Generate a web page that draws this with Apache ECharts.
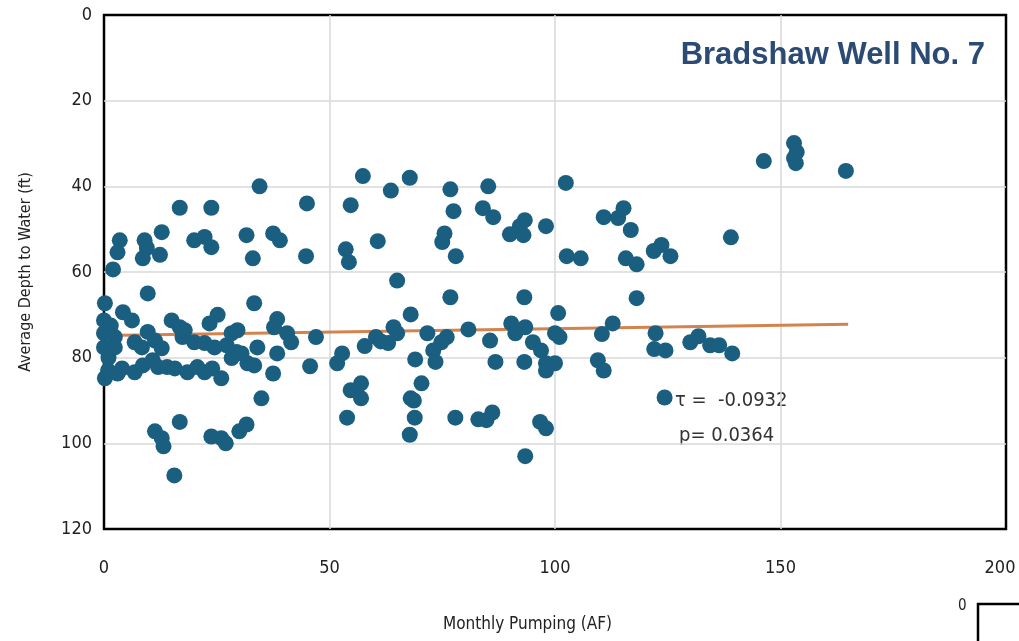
<!DOCTYPE html>
<html>
<head>
	<meta charset="utf-8">
	<title>Bradshaw Well No. 7</title>
	<script src="https://cdn.jsdelivr.net/npm/echarts@6/dist/echarts.min.js"></script>
	<style>
		html, body { margin: 0; padding: 0; background: #fff; }
	</style>
</head>
<body>
	<div id="main" style="width: 1019px;height:641px;"></div>
	<script type="text/javascript">
	// monthly pumping (AF), average depth to water (ft)
	var points = [
		// left, upper
		[0.2,67.3],[2,59.4],[3.5,52.6],[3,55.4],[9,52.6],[9.5,54.4],[8.6,56.8],[12.8,50.7],[12.4,56],[9.7,65],
		[16.8,45],[20,52.6],[22.3,51.8],[23.8,54.2],[23.8,45],[31.6,51.4],[33,56.8],[34.5,40],[33.3,67.3],
		// left, dense band
		[4.2,69.4],[6.2,71.3],[0,71.3],[1.5,72.5],[0,74.3],[0,77.6],[1,80],[2.4,75.2],[2.4,77.6],[6.8,76.4],[8.4,77.6],
		[9.7,74],[11.3,76],[12.8,77.8],[15,71.3],[16.8,72.9],[17.4,75.2],[17.9,73.6],[20,76.4],[22.3,76.6],
		[23.4,72],[25.2,70],[24.5,77.6],[27.2,77.1],[28.3,74.3],[29.6,73.6],[29.4,78.7],[31.8,81.3],[34,77.6],
		[0.9,83],[0.2,84.8],[3,83.7],[4,82.5],[6.8,83.4],[8.6,81.8],[10.8,80.6],[12,82.2],[14,82.2],[15.7,82.5],
		[18.5,83.4],[20.7,82.2],[22.3,83.4],[24,82.5],[26,84.8],[28.3,80.1],[30.5,79],
		// left, low
		[11.3,97.2],[12.8,98.8],[13.2,100.7],[16.8,95],[15.6,107.5],[23.8,98.4],[26,98.8],[27,100],[30,97.2],[31.6,95.6],
		// middle
		[45,44],[57.4,37.6],[67.8,38],[63.6,41],[54.7,44.4],[37.5,51],[39,52.6],[44.8,56.3],[53.6,54.7],[54.3,57.7],
		[60.7,52.8],[65,62],[68,69.9],[38.4,71],[37.7,72.9],[40.6,74.3],[41.5,76.4],[38.4,79],[47,75.2],[45.7,82],
		[37.5,83.7],[34.9,89.5],[33.3,81.8],[51.7,81.3],[52.8,79],[54.7,87.6],[57,86],[57,89.5],[53.9,94],[57.8,77.3],
		[60.3,75.2],[61.4,76.2],[63,76.6],[64.2,72.9],[65,74.3],[69,80.4],[70.4,86],[68,89.5],[68.7,90],[68.9,94],[67.8,98],
		// middle right
		[76.8,40.7],[85.2,40],[102.4,39.2],[77.5,45.8],[84,45.1],[86.3,47.2],[75.5,51],[75,53],[78,56.3],[90,51.2],
		[93.3,47.9],[92.2,49.3],[93,51.4],[98,49.3],[102.6,56.3],[105.7,56.8],[76.8,65.9],[93.2,65.9],[100.7,69.6],
		[71.7,74.3],[80.8,73.4],[76,75.2],[74.8,76.4],[73,78.3],[73.5,81],[85.6,76],[86.8,81],[90.3,72],[91.2,74.3],
		[93.4,72.9],[95.1,76.4],[96.9,78.3],[93.2,81],[98,81.3],[100,81.3],[98,83],[100,74.3],[101,75.2],
		[77.9,94],[83,94.4],[84.8,94.6],[86.1,92.8],[96.7,95],[98,96.5],[93.4,103],
		// right
		[110.8,47.2],[110.4,74.5],[109.5,80.6],[146.3,34.1],[153,29.9],[153.6,32],[153,33.4],[153.4,34.6],[164.5,36.4],
		[114,47.4],[115.2,45.1],[116.8,50.2],[139,51.9],[121.9,55.1],[123.6,53.7],[125.6,56.3],[115.7,56.8],[118.1,58.2],
		[118.1,66.1],[112.8,72],[110.8,83],[122.3,74.3],[122,78],[124.5,78.3],[130,76.4],[131.8,75],[134.4,77.1],
		[136.4,77.1],[139.3,79],[124.3,89.3]
	];

	// linear trend
	var trend = [[0,74.8],[165,72.2]];

	var stats = ['τ =  -0.0932', 'p= 0.0364'];

	var narrow = '"Liberation Sans Narrow", "DejaVu Sans Condensed", sans-serif';

	var myChart = echarts.init(document.getElementById('main'));

	var option = {
		animation: false,
		backgroundColor: '#fff',
		title: {
			text: 'Bradshaw Well No. 7',
			right: 29,
			top: 35,
			textStyle: {
				fontFamily: '"Liberation Sans", Arial, sans-serif',
				fontWeight: 'bold',
				fontSize: 31,
				color: '#2b4a74'
			}
		},
		grid: {
			left: 104,
			right: 13,
			top: 15,
			bottom: 112,
			outerBoundsMode: 'none',
			show: true,
			borderColor: '#000',
			borderWidth: 2.5
		},
		xAxis: {
			type: 'value',
			min: 0,
			max: 200,
			interval: 50,
			axisLine: { show: false },
			axisTick: { show: false },
			axisLabel: {
				margin: 30,
				fontFamily: narrow,
				fontSize: 18,
				color: '#222',
				formatter: function (v) { return v === 200 ? '{m|200}' : String(v); },
				rich: { m: { fontFamily: narrow, fontSize: 18, color: '#222', padding: [0, 12, 0, 0] } }
			},
			splitLine: { showMinLine: false, showMaxLine: false, lineStyle: { color: '#d9d9d9', width: 1.5 } }
		},
		yAxis: {
			type: 'value',
			inverse: true,
			min: 0,
			max: 120,
			interval: 20,
			name: 'Average Depth to Water (ft)',
			nameLocation: 'middle',
			nameGap: 70,
			nameTextStyle: {
				fontFamily: narrow,
				fontSize: 16,
				color: '#222'
			},
			axisLine: { show: false },
			axisTick: { show: false },
			axisLabel: {
				margin: 12,
				fontFamily: narrow,
				fontSize: 18,
				color: '#222'
			},
			splitLine: { showMinLine: false, showMaxLine: false, lineStyle: { color: '#d9d9d9', width: 1.5 } }
		},
		graphic: [
			{
				type: 'text',
				left: 443,
				top: 616,
				style: {
					text: 'Monthly Pumping (AF)',
					fontFamily: narrow,
					fontSize: 17,
					fill: '#222'
				}
			},
			{
				type: 'text',
				left: 675,
				top: 391,
				style: { text: stats[0], fontFamily: narrow, fontSize: 20, fill: '#333' }
			},
			{
				type: 'text',
				left: 679,
				top: 426,
				style: { text: stats[1], fontFamily: narrow, fontSize: 20, fill: '#333' }
			},
			{
				type: 'text',
				left: 958,
				top: 599,
				style: { text: '0', fontFamily: narrow, fontSize: 15, fill: '#222' }
			},
			{
				type: 'rect',
				shape: { x: 978, y: 604, width: 80, height: 80 },
				style: { fill: '#fff', stroke: '#000', lineWidth: 2.5 }
			}
		],
		series: [
			{
				type: 'scatter',
				data: points,
				symbolSize: 16,
				itemStyle: { color: '#1a5e80', opacity: 1 },
				z: 3
			},
			{
				type: 'line',
				data: trend,
				showSymbol: false,
				lineStyle: { color: '#d4834e', width: 3 },
				z: 2
			}
		]
	};

	myChart.setOption(option);
	</script>
</body>
</html>
